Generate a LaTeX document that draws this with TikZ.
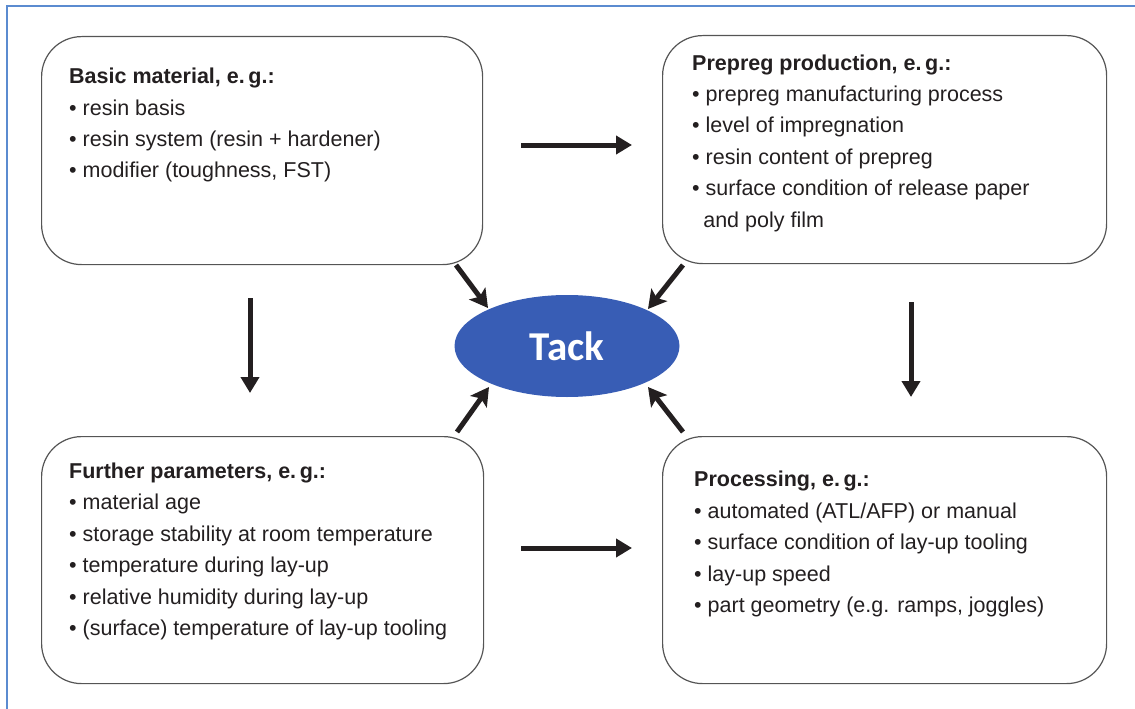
\documentclass[tikz,border=0pt]{standalone}
\usepackage{fontspec}
\setmainfont{Liberation Sans}
\newfontfamily\tackfont{Carlito}
\usetikzlibrary{arrows.meta,shapes.geometric}
\definecolor{txt}{HTML}{231F20}
\definecolor{frameblue}{HTML}{5B8BD0}
\definecolor{boxgray}{HTML}{555555}
\definecolor{tackblue}{HTML}{385DB5}
\tikzset{
  box/.style={draw=boxgray, line width=1.2pt, rounded corners=40pt, anchor=north west, inner sep=0pt},
  btext/.style={anchor=north west, align=left, inner sep=0pt, text=txt, font=\fontsize{21.5}{31.4}\selectfont},
  arr/.style={draw=txt, line width=5pt, -{Triangle[width=18pt,length=16pt]}},
  darr/.style={draw=txt, line width=5pt, -{Stealth[width=20pt,length=18pt,inset=4pt]}},
}
\newcommand{\bl}{\textbullet\ }
\begin{document}
\begin{tikzpicture}[x=1pt,y=-1pt]
\useasboundingbox (0,0) rectangle (1135,709);
\draw[frameblue, line width=2pt] (6.5,709) -- (6.5,6.5) -- (1135,6.5);

\node[box, minimum width=441pt, minimum height=228pt] (b1) at (41,36) {};
\node[box, minimum width=444pt, minimum height=228pt] (b2) at (662,35) {};
\node[box, minimum width=442pt, minimum height=247pt] (b3) at (41,436) {};
\node[box, minimum width=444pt, minimum height=247pt] (b4) at (662,436) {};

% first-line baseline = y + 21.98
\node[btext] (t1) at (69,61.5) {\strut\textbf{Basic material, e.\,g.:}\\
\bl resin basis\\
\bl resin system (resin + hardener)\\
\bl modifier (toughness, FST)};

\node[btext] (t2) at (692,48) {\strut\textbf{Prepreg production, e.\,g.:}\\
\bl prepreg manufacturing process\\
\bl level of impregnation\\
\bl resin content of prepreg\\
\bl surface condition of release paper\\
\hphantom{\textbullet}\,and poly film};

\node[btext] (t3) at (69,456.3) {\strut\textbf{Further parameters, e.\,g.:}\\
\bl material age\\
\bl storage stability at room temperature\\
\bl temperature during lay-up\\
\bl relative humidity during lay-up\\
\bl (surface) temperature of lay-up tooling};

\node[btext] (t4) at (694,464.7) {\strut\textbf{Processing, e.\,g.:}\\
\bl automated (ATL/AFP) or manual\\
\bl surface condition of lay-up tooling\\
\bl lay-up speed\\
\bl part geometry (e.g. ramps, joggles)};

\node[ellipse, fill=tackblue, minimum width=225pt, minimum height=102pt, inner sep=0pt,
      text=white, font=\tackfont\bfseries\fontsize{41}{41}\selectfont] (tack) at (567,346) {Tack};

\coordinate (h1s) at (521,145); \coordinate (h1e) at (632,145);
\coordinate (h2s) at (521,548); \coordinate (h2e) at (632,548);
\coordinate (v1s) at (250,298); \coordinate (v1e) at (250,393);
\coordinate (v2s) at (911,302); \coordinate (v2e) at (911,397);
\coordinate (d1s) at (456,265); \coordinate (d1e) at (488,308);
\coordinate (d2s) at (683,265); \coordinate (d2e) at (648,309);
\coordinate (d3s) at (457,432); \coordinate (d3e) at (489,387);
\coordinate (d4s) at (683,432); \coordinate (d4e) at (648,387);

\draw[arr] (h1s) -- (h1e);
\draw[arr] (h2s) -- (h2e);
\draw[arr] (v1s) -- (v1e);
\draw[arr] (v2s) -- (v2e);
\draw[darr] (d1s) -- (d1e);
\draw[darr] (d2s) -- (d2e);
\draw[darr] (d3s) -- (d3e);
\draw[darr] (d4s) -- (d4e);
\end{tikzpicture}
\end{document}
